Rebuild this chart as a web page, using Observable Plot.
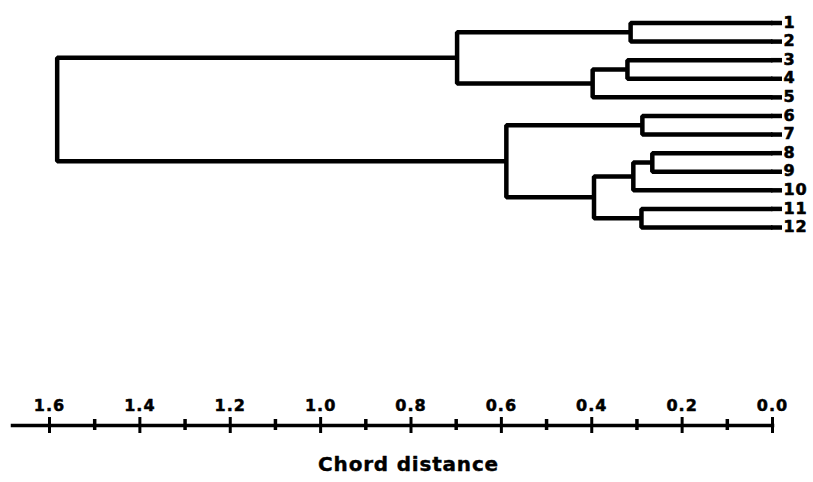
<!DOCTYPE html>
<html>
<head>
<meta charset="utf-8">
<script src="https://cdn.jsdelivr.net/npm/d3@7"></script>
<script src="https://cdn.jsdelivr.net/npm/@observablehq/plot@0.6"></script>
<style>
  html, body { margin: 0; padding: 0; background: #fff; }
  g[aria-label="x-axis tick label"] text { letter-spacing: 1px; }
  g[aria-label="text"] text { letter-spacing: 0.8px; }
</style>
</head>
<body>
<div id="chart"></div>
<script>
// ---- data ----
const leafLabels = ["1", "2", "3", "4", "5", "6", "7", "8", "9", "10", "11", "12"];
// merge i creates node "m"+i from mergeLeft[i] and mergeRight[i] at mergeDistance[i]
const mergeLeft     = ["1",   "3",   "m1",  "m0",  "6",   "8",   "m5",  "11",  "m6",  "m4",  "m3"];
const mergeRight    = ["2",   "4",   "5",   "m2",  "7",   "9",   "10",  "12",  "m7",  "m8",  "m9"];
const mergeDistance = [0.314, 0.321, 0.398, 0.698, 0.288, 0.266, 0.308, 0.290, 0.395, 0.589, 1.583];
const majorTicks = [1.6, 1.4, 1.2, 1.0, 0.8, 0.6, 0.4, 0.2, 0.0];
const minorTicks = [1.5, 1.3, 1.1, 0.9, 0.7, 0.5, 0.3, 0.1];
const axisTitle = "Chord distance";

// ---- dendrogram layout: one elbow path per merge ----
const nodes = new Map();
leafLabels.forEach((name, i) => nodes.set(name, {x: 0, y: i + 1}));
const elbows = [];
mergeDistance.forEach((d, i) => {
  const a = nodes.get(mergeLeft[i]);
  const b = nodes.get(mergeRight[i]);
  const id = "m" + i;
  elbows.push(
    {id, x: a.x, y: a.y},
    {id, x: d, y: a.y},
    {id, x: d, y: b.y},
    {id, x: b.x, y: b.y}
  );
  nodes.set(id, {x: d, y: (a.y + b.y) / 2});
});
const leaves = leafLabels.map((name, i) => ({name, x: 0, y: i + 1}));

const font = "'DejaVu Sans', 'Liberation Sans', sans-serif";
const lw = 4.5;

const chart = Plot.plot({
  width: 813,
  height: 482,
  marginTop: 0,
  marginLeft: 12,
  marginRight: 41,
  marginBottom: 57,
  style: {fontFamily: font, background: "#fff", color: "#000", overflow: "visible"},
  x: {domain: [1.6, 0], range: [49, 772], label: null},
  y: {domain: [1, 12], range: [22.5, 227], axis: null},
  marks: [
    Plot.line(elbows, {x: "x", y: "y", z: "id", stroke: "#000", strokeWidth: lw, strokeLinejoin: "miter", strokeLinecap: "butt", curve: "linear"}),
    // leaf tips run a little past zero
    Plot.ruleY(leaves, {y: "y", x1: "x", x2: "x", insetLeft: -1, insetRight: -10, strokeWidth: lw}),
    Plot.text(leaves, {x: "x", y: "y", text: "name", dx: 11, dy: -0.5, textAnchor: "start", fontSize: 16, fontWeight: "bold", fill: "#000", stroke: "#000", strokeWidth: 0.6}),
    Plot.frame({anchor: "bottom", strokeWidth: 3.5}),
    Plot.axisX(majorTicks, {anchor: "bottom", tickSize: 16, dy: -8, strokeWidth: 3, fill: "none", label: null}),
    Plot.axisX(minorTicks, {anchor: "bottom", tickSize: 11, dy: -6, strokeWidth: 3.5, fill: "none", label: null}),
    Plot.axisX(majorTicks, {anchor: "bottom", tickSize: 0, dy: -35, tickFormat: d3.format(".1f"), fontSize: 16, fontWeight: "bold", textStroke: "#000", textStrokeWidth: 0.5, label: null}),
    Plot.text([axisTitle], {text: d => d, frameAnchor: "bottom", dx: 16, dy: 45, fontSize: 20, fontWeight: "bold", fill: "#000", stroke: "#000", strokeWidth: 0.4})
  ]
});
document.getElementById("chart").appendChild(chart);
</script>
</body>
</html>
